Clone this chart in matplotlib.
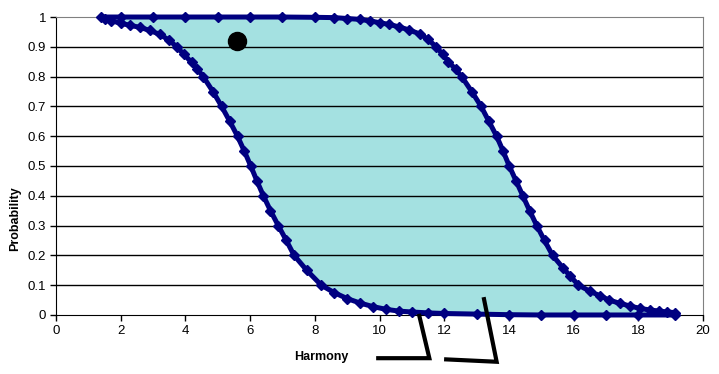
import matplotlib
matplotlib.use("Agg")
import matplotlib.pyplot as plt
import numpy as np

# upper boundary
upper_x = [1.4, 2.0, 3.0, 4.0, 5.0, 6.0, 7.0, 8.0, 8.6, 9.0, 9.4, 9.7, 10.0, 10.3,
           10.6, 10.9, 11.25, 11.5, 11.75, 11.95, 12.13, 12.35, 12.54, 12.85, 13.14,
           13.38, 13.62, 13.82, 14.01, 14.22, 14.43, 14.64, 14.86, 15.1, 15.35, 15.68,
           15.9, 16.15, 16.5, 16.82, 17.1, 17.43, 17.75, 18.05, 18.35, 18.65, 18.9, 19.13]
upper_y = [1.0, 1.0, 1.0, 1.0, 1.0, 1.0, 1.0, 0.999, 0.998, 0.995, 0.992, 0.987, 0.981,
           0.975, 0.967, 0.957, 0.943, 0.925, 0.900, 0.875, 0.850, 0.825, 0.800, 0.750,
           0.700, 0.650, 0.600, 0.550, 0.500, 0.450, 0.400, 0.350, 0.300, 0.250, 0.200,
           0.157, 0.130, 0.100, 0.080, 0.064, 0.050, 0.039, 0.030, 0.022, 0.017, 0.013,
           0.010, 0.008]

# lower boundary
lower_x = [1.5, 1.7, 2.0, 2.3, 2.6, 2.9, 3.2, 3.5, 3.73, 3.95, 4.19, 4.37, 4.55, 4.85,
           5.12, 5.37, 5.61, 5.82, 6.02, 6.21, 6.41, 6.63, 6.87, 7.12, 7.36, 7.75, 8.2,
           8.6, 9.0, 9.4, 9.8, 10.2, 10.6, 11.0, 11.5, 12.0, 13.0, 14.0, 15.0, 16.0,
           17.0, 18.0, 19.13]
lower_y = [0.995, 0.988, 0.979, 0.972, 0.965, 0.955, 0.942, 0.922, 0.900, 0.875, 0.848,
           0.825, 0.800, 0.750, 0.700, 0.650, 0.600, 0.550, 0.500, 0.450, 0.400, 0.350,
           0.300, 0.250, 0.200, 0.150, 0.100, 0.075, 0.055, 0.040, 0.028, 0.019, 0.013,
           0.010, 0.007, 0.005, 0.003, 0.001, 0.0, 0.0, 0.0, 0.0, 0.0]

dot_x, dot_y = [5.6], [0.92]

x_ticks = list(range(0, 21, 2))
y_ticks = [0, 0.1, 0.2, 0.3, 0.4, 0.5, 0.6, 0.7, 0.8, 0.9, 1]
y_labels = ["0", "0.1", "0.2", "0.3", "0.4", "0.5", "0.6", "0.7", "0.8", "0.9", "1"]

NAVY = "#000080"
FILL = "#a4e1e1"

plt.rcParams["font.family"] = ["Liberation Sans", "DejaVu Sans"]

fig = plt.figure(figsize=(7.19, 3.74), dpi=100)
ax = fig.add_axes([0.0779, 0.1578, 0.8999, 0.7967])

# shaded band between the two curves
poly_x = np.concatenate([upper_x, lower_x[::-1]])
poly_y = np.concatenate([upper_y, lower_y[::-1]])
ax.fill(poly_x, poly_y, color=FILL, zorder=1, lw=0)

for gy in y_ticks[1:-1]:
    ax.axhline(gy, color="black", lw=1.0, zorder=2)

for cx, cy in ((upper_x, upper_y), (lower_x, lower_y)):
    ax.plot(cx, cy, color=NAVY, lw=3.6, marker="D", ms=5.2, zorder=3,
            clip_on=False, solid_capstyle="butt")
ax.plot(dot_x, dot_y, "o", color="black", ms=13, zorder=4)

ax.set_xlim(0, 20)
ax.set_ylim(0, 1)
ax.set_xticks(x_ticks)
ax.set_yticks(y_ticks)
ax.set_yticklabels(y_labels)
ax.tick_params(direction="out", length=4, width=1, labelsize=9.5, pad=3)

for side in ("top", "right"):
    ax.spines[side].set_color("#808080")
for side in ("left", "bottom"):
    ax.spines[side].set_color("black")

fig.text(0.021, 0.415, "Probability", rotation=90, ha="center", va="center",
         fontsize=9, fontweight="bold")
fig.text(0.447, 0.045, "Harmony", ha="center", va="center",
         fontsize=9, fontweight="bold")

# hand-drawn bracket marks under the axis
ax.plot([11.23, 11.54, 9.96], [-0.003, -0.145, -0.145], color="black", lw=3,
        clip_on=False, zorder=5, solid_joinstyle="miter")
ax.plot([13.23, 13.62, 12.06], [0.053, -0.157, -0.149], color="black", lw=3,
        clip_on=False, zorder=5, solid_joinstyle="miter")

fig.savefig("out.png", dpi=100)
